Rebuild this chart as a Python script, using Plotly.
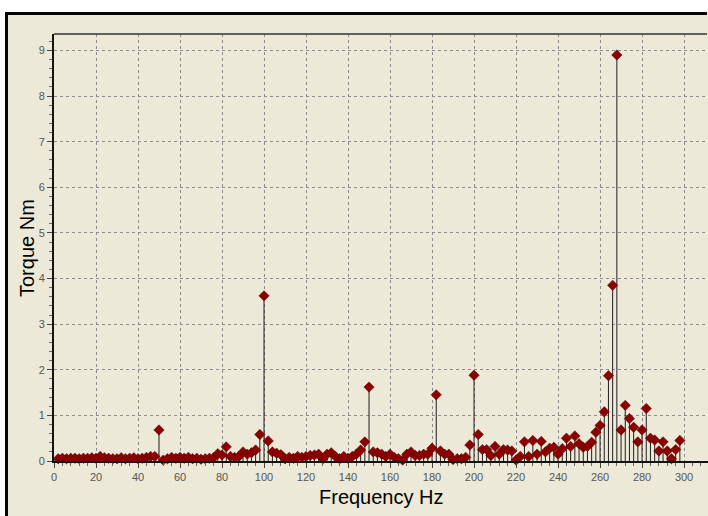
import plotly.graph_objects as go

# Frequency bins (Hz) and torque amplitude (Nm)
freq_hz = list(range(2, 300, 2))
torque_nm = [
    0.05, 0.06, 0.05, 0.06, 0.06, 0.05, 0.06, 0.06, 0.07, 0.06,   # 2-20
    0.10, 0.07, 0.06, 0.05, 0.05, 0.07, 0.05, 0.06, 0.07, 0.05,   # 22-40
    0.06, 0.08, 0.10, 0.10, 0.68, 0.02, 0.05, 0.08, 0.06, 0.08,   # 42-60
    0.06, 0.08, 0.05, 0.06, 0.04, 0.05, 0.06, 0.07, 0.16, 0.13,   # 62-80
    0.31, 0.10, 0.08, 0.10, 0.20, 0.15, 0.18, 0.24, 0.58, 3.62,   # 82-100
    0.44, 0.20, 0.17, 0.14, 0.05, 0.08, 0.06, 0.10, 0.08, 0.10,   # 102-120
    0.12, 0.13, 0.15, 0.05, 0.15, 0.18, 0.10, 0.05, 0.10, 0.06,   # 122-140
    0.10, 0.15, 0.24, 0.42, 1.62, 0.20, 0.18, 0.15, 0.10, 0.15,   # 142-160
    0.08, 0.05, 0.02, 0.15, 0.20, 0.12, 0.12, 0.15, 0.15, 0.28,   # 162-180
    1.45, 0.22, 0.15, 0.15, 0.03, 0.05, 0.05, 0.08, 0.35, 1.88,   # 182-200
    0.58, 0.25, 0.25, 0.12, 0.32, 0.15, 0.25, 0.24, 0.22, 0.02,   # 202-220
    0.10, 0.42, 0.10, 0.45, 0.15, 0.43, 0.20, 0.28, 0.30, 0.15,   # 222-240
    0.27, 0.50, 0.32, 0.55, 0.38, 0.30, 0.32, 0.41, 0.63, 0.78,   # 242-260
    1.08, 1.87, 3.85, 8.90, 0.68, 1.22, 0.93, 0.74, 0.42, 0.68,   # 262-280
    1.15, 0.50, 0.46, 0.22, 0.42, 0.22, 0.05, 0.25, 0.45,         # 282-298
]

x_ticks = list(range(0, 301, 20))
y_ticks = list(range(0, 10))

# stems built from the data
stem_x, stem_y = [], []
for f, v in zip(freq_hz, torque_nm):
    stem_x += [f, f, None]
    stem_y += [0, v, None]

BG = "#ECE9D8"

fig = go.Figure()
fig.add_trace(go.Scatter(x=stem_x, y=stem_y, mode="lines",
                         line=dict(color="#1e1e1e", width=1),
                         hoverinfo="skip", showlegend=False))
fig.add_trace(go.Scatter(x=freq_hz, y=torque_nm, mode="markers",
                         marker=dict(symbol="diamond", size=8, color="#8B0000",
                                     line=dict(color="#5a0000", width=0.5)),
                         cliponaxis=False, showlegend=False))

# plot area: left 54, right 708, top 34, bottom 461 (px)
L, R, T, B = 54, 0, 34, 55
W, H = 708, 516
pw = W - L - R
ph = H - T - B

def px(p):
    return (p - L) / pw

def py(q):
    return (H - B - q) / ph

# white strip above and left of the panel
fig.add_shape(type="rect", xref="paper", yref="paper",
              x0=px(0), x1=px(W), y0=py(13), y1=py(0),
              line=dict(width=0), fillcolor="white", layer="below")
fig.add_shape(type="rect", xref="paper", yref="paper",
              x0=px(0), x1=px(5), y0=py(H), y1=py(13),
              line=dict(width=0), fillcolor="white", layer="below")
# panel border: top and left edges
fig.add_shape(type="line", xref="paper", yref="paper",
              x0=px(5), x1=px(W - 1), y0=py(13.5), y1=py(13.5),
              line=dict(color="#050505", width=3))
fig.add_shape(type="line", xref="paper", yref="paper",
              x0=px(6.5), x1=px(6.5), y0=py(13), y1=py(H),
              line=dict(color="#050505", width=3))
# top border of the plot area
fig.add_shape(type="line", xref="paper", yref="paper",
              x0=0, x1=px(W - 1), y0=1, y1=1,
              line=dict(color="#333333", width=1.5))

fig.add_annotation(text="Frequency Hz", xref="paper", yref="paper",
                   x=px(382), y=py(497), showarrow=False,
                   font=dict(family="Liberation Sans, Arial", size=20, color="black"),
                   xanchor="center", yanchor="middle")
fig.add_annotation(text="Torque Nm", xref="paper", yref="paper",
                   x=px(27), y=py(248), showarrow=False, textangle=-90,
                   font=dict(family="Liberation Sans, Arial", size=20, color="black"),
                   xanchor="center", yanchor="middle")

tickfont = dict(family="Liberation Sans, Arial", size=11, color="#555555")

fig.update_xaxes(range=[0, 311.4], tickvals=x_ticks, ticks="outside", ticklen=5,
                 tickcolor="#444444", tickfont=tickfont, showline=True, linecolor="#121212",
                 linewidth=2, mirror=False, zeroline=False,
                 minor=dict(dtick=4, tick0=0, ticks="outside", ticklen=3, tickcolor="#666666",
                            showgrid=False),
                 showgrid=True, gridcolor="#8c8c8c", gridwidth=1, griddash="3px,3px")
fig.update_yaxes(range=[0, 9.36], tickvals=y_ticks, ticks="outside", ticklen=5,
                 tickcolor="#444444", tickfont=tickfont, showline=True, linecolor="#121212",
                 linewidth=2, mirror=False, zeroline=False,
                 minor=dict(dtick=0.2, tick0=0, ticks="outside", ticklen=3, tickcolor="#666666",
                            showgrid=False),
                 showgrid=True, gridcolor="#8c8c8c", gridwidth=1, griddash="3px,3px")

fig.update_layout(width=W, height=H, margin=dict(l=L, r=R, t=T, b=B),
                  paper_bgcolor=BG, plot_bgcolor=BG, showlegend=False)

fig.write_html("out.html", config={"displayModeBar": False},
               post_script="document.body.style.margin='0';document.body.style.overflow='hidden';")
